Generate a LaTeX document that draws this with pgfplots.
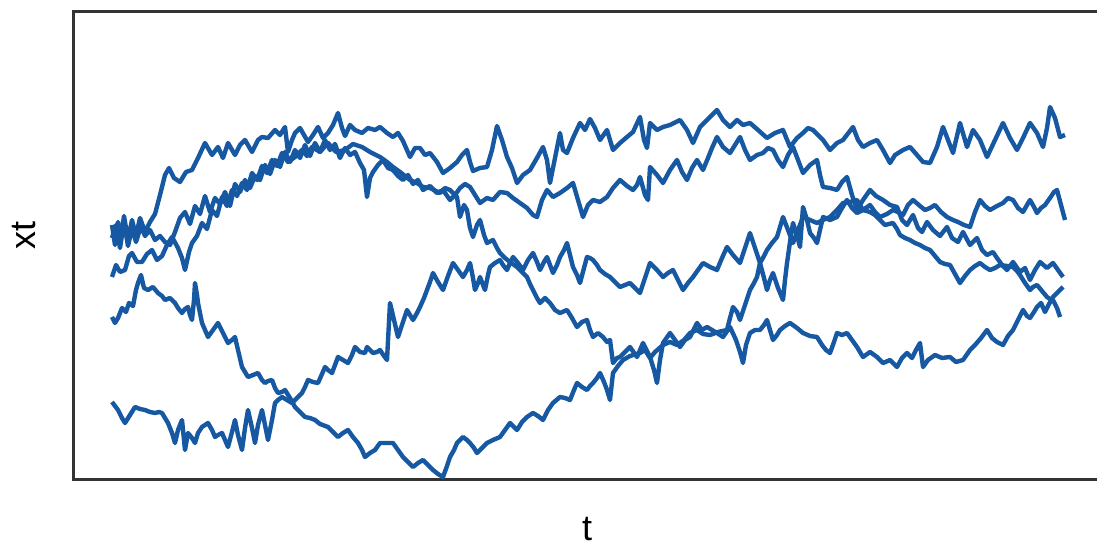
\documentclass[border=0pt]{standalone}
\usepackage{pgfplots}
\pgfplotsset{compat=1.18}
\usepackage{fontspec}
\setmainfont{Liberation Sans}
\definecolor{lineblue}{RGB}{22,88,162}
\tikzset{myline/.style={lineblue, line width=2.2pt, line join=round, mark=none}}
\begin{document}
\begin{tikzpicture}[x=1pt,y=1pt]
\useasboundingbox (0,0) rectangle (548.5pt,274.5pt);
\clip (0,0) rectangle (548.5pt,274.5pt);
\begin{axis}[
  at={(36.5pt,34.5pt)}, anchor=south west,
  scale only axis, width=518.5pt, height=234pt,
  xmin=73, xmax=1110, ymin=12, ymax=480, y dir=reverse,
  xtick=\empty, ytick=\empty,
  axis line style={line width=1.5pt, black!80},
]
\addplot[myline] coordinates {(112,225)(115,245)(118,222)(121,238)(124,216)(128,240)(132,220)(136,236)(140,218)(145,232)(150,222)(155,214)(160,195)(165,175)(169,168)(174,178)(180,182)(186,172)(192,170)(198,158)(205,143)(212,155)(218,147)(223,158)(228,143)(235,155)(240,145)(245,140)(252,152)(258,140)(262,137)(268,138)(275,130)(280,135)(285,127)(288,152)(292,140)(295,133)(300,128)(308,142)(313,135)(318,127)(323,138)(328,133)(333,125)(338,113)(342,128)(345,136)(350,125)(355,130)(362,133)(368,128)(375,130)(380,127)(387,133)(393,137)(398,133)(403,141)(410,157)(415,148)(420,148)(425,155)(430,153)(437,162)(443,173)(450,168)(457,162)(462,155)(467,150)(470,162)(473,171)(480,168)(487,167)(492,150)(497,126)(502,140)(507,157)(512,168)(517,183)(523,175)(530,170)(537,158)(543,147)(547,160)(550,183)(555,158)(560,133)(563,150)(567,153)(573,138)(580,123)(585,130)(590,119)(595,128)(600,140)(607,130)(613,150)(620,143)(627,137)(633,132)(640,117)(644,140)(647,148)(650,123)(657,130)(663,127)(670,125)(680,120)(687,130)(693,143)(700,127)(707,120)(712,115)(717,110)(723,120)(730,127)(737,120)(743,125)(750,123)(758,130)(767,138)(775,133)(783,130)(790,147)(797,138)(803,133)(808,128)(813,130)(823,140)(830,150)(837,143)(843,140)(853,127)(858,140)(863,147)(870,143)(877,140)(883,150)(890,163)(895,155)(903,150)(910,147)(917,155)(923,162)(930,163)(937,147)(943,127)(948,140)(953,153)(960,123)(967,147)(973,130)(980,140)(987,157)(995,140)(1003,123)(1010,138)(1017,150)(1023,138)(1030,123)(1037,133)(1043,147)(1047,128)(1050,107)(1055,118)(1060,137)(1065,135)};
\addplot[myline] coordinates {(112,238)(116,225)(120,248)(124,222)(128,246)(132,228)(136,242)(141,226)(145,236)(150,230)(155,240)(160,236)(165,242)(170,245)(175,232)(180,218)(185,212)(190,224)(195,206)(200,214)(205,196)(210,212)(215,198)(220,204)(225,192)(230,206)(235,184)(240,192)(245,180)(250,188)(255,176)(260,180)(265,165)(270,174)(275,160)(280,167)(285,152)(290,162)(295,150)(300,158)(305,145)(310,156)(315,143)(320,152)(325,140)(330,150)(335,144)(340,158)(345,148)(350,155)(355,152)(360,163)(364,170)(367,197)(370,178)(373,172)(378,165)(383,160)(388,168)(393,170)(398,176)(403,180)(408,175)(413,184)(418,180)(423,190)(430,186)(437,193)(443,190)(450,200)(455,195)(460,188)(465,184)(470,187)(475,195)(480,203)(487,198)(493,200)(500,192)(507,193)(513,198)(520,203)(527,208)(533,215)(537,217)(542,200)(547,190)(553,197)(560,193)(567,188)(573,183)(578,200)(583,217)(588,205)(593,200)(600,202)(607,197)(613,188)(620,180)(627,186)(633,190)(637,185)(640,177)(645,195)(648,200)(650,167)(657,175)(663,183)(670,170)(677,160)(682,172)(687,180)(692,168)(697,160)(703,170)(708,158)(712,148)(717,137)(723,147)(730,153)(735,145)(740,137)(745,150)(750,160)(757,155)(763,153)(768,148)(773,150)(778,160)(783,167)(788,155)(793,147)(798,160)(803,173)(810,165)(817,160)(820,175)(823,187)(830,188)(837,190)(842,182)(847,177)(852,195)(857,210)(863,200)(870,190)(876,196)(883,200)(890,205)(897,207)(902,220)(907,225)(913,215)(918,228)(922,232)(927,222)(933,230)(940,236)(947,227)(952,238)(958,242)(963,232)(970,245)(977,238)(982,250)(987,255)(993,252)(997,258)(1002,265)(1007,270)(1013,262)(1020,272)(1025,268)(1030,280)(1035,270)(1040,262)(1047,268)(1053,263)(1058,270)(1063,277)};
\addplot[myline] coordinates {(112,277)(116,265)(120,272)(125,270)(129,256)(132,253)(137,262)(142,262)(147,254)(152,250)(157,260)(162,256)(167,245)(172,237)(178,248)(182,258)(185,270)(189,252)(192,243)(197,236)(202,223)(207,229)(212,210)(217,216)(222,197)(227,206)(232,190)(237,196)(242,183)(247,190)(252,173)(257,180)(262,166)(267,173)(272,160)(277,166)(282,153)(288,162)(295,157)(302,150)(307,156)(312,147)(320,152)(328,143)(336,152)(345,150)(353,144)(362,147)(370,152)(380,157)(387,162)(393,167)(400,172)(410,180)(417,183)(423,187)(430,188)(440,193)(445,188)(450,190)(457,197)(460,217)(464,205)(467,210)(470,228)(473,237)(477,225)(480,220)(484,235)(487,243)(493,240)(497,248)(500,253)(505,258)(510,262)(517,267)(522,272)(527,277)(530,284)(533,290)(537,298)(540,303)(545,298)(550,303)(555,310)(560,313)(567,310)(572,318)(577,327)(582,322)(587,320)(590,330)(593,337)(598,333)(603,337)(607,342)(610,340)(613,363)(617,358)(620,357)(625,352)(630,347)(637,357)(643,343)(650,357)(654,370)(657,383)(660,360)(663,343)(670,333)(675,340)(680,347)(685,340)(690,337)(697,323)(702,330)(707,327)(712,330)(717,333)(723,337)(730,327)(736,340)(740,352)(743,363)(746,345)(750,333)(755,330)(760,330)(764,325)(767,320)(770,330)(773,340)(777,335)(780,330)(785,326)(790,323)(797,328)(803,333)(810,336)(817,337)(822,345)(826,350)(830,353)(834,342)(837,333)(842,335)(847,333)(852,340)(857,347)(863,357)(870,352)(877,357)(883,363)(890,360)(897,367)(902,358)(907,353)(912,358)(916,350)(920,343)(923,367)(928,360)(935,355)(942,358)(950,357)(956,362)(963,360)(970,350)(975,345)(981,338)(987,330)(992,338)(997,342)(1003,345)(1008,336)(1013,330)(1018,320)(1023,310)(1027,316)(1030,318)(1034,312)(1037,307)(1041,303)(1045,312)(1049,304)(1053,297)(1058,292)(1063,287)};
\addplot[myline] coordinates {(112,317)(115,323)(118,318)(122,308)(126,312)(129,303)(133,306)(136,290)(138,283)(141,275)(144,288)(148,290)(153,287)(158,293)(162,296)(165,300)(170,298)(175,303)(178,308)(182,313)(185,309)(188,307)(190,315)(192,320)(194,300)(195,283)(197,295)(198,303)(202,323)(205,330)(208,337)(213,330)(218,323)(223,333)(228,343)(232,340)(235,337)(238,350)(242,367)(245,372)(248,377)(253,375)(258,373)(262,380)(265,383)(268,381)(272,380)(275,388)(278,393)(282,392)(285,390)(290,398)(295,407)(300,412)(305,417)(310,418)(315,420)(320,424)(328,427)(333,432)(338,437)(343,433)(348,430)(353,437)(358,443)(362,450)(365,457)(370,453)(375,450)(380,443)(387,443)(393,443)(398,450)(403,457)(408,462)(413,467)(418,463)(423,460)(428,465)(433,470)(438,474)(443,477)(447,466)(450,457)(454,450)(457,443)(460,440)(463,437)(467,440)(470,443)(474,448)(477,453)(482,448)(487,443)(493,440)(500,437)(505,430)(510,423)(514,427)(517,430)(522,422)(527,417)(533,413)(538,416)(543,420)(548,410)(553,403)(560,397)(565,398)(570,400)(574,390)(577,383)(582,387)(587,390)(590,386)(593,383)(597,378)(600,373)(604,382)(607,390)(610,400)(613,373)(618,366)(623,360)(630,356)(640,353)(645,350)(650,358)(655,352)(663,345)(670,342)(677,345)(684,340)(690,333)(697,330)(703,334)(710,335)(718,332)(727,330)(730,318)(733,307)(737,312)(740,320)(745,305)(750,290)(754,283)(757,277)(760,263)(764,278)(767,290)(770,280)(773,273)(778,288)(783,300)(785,280)(787,263)(790,242)(793,223)(797,235)(800,247)(803,207)(807,220)(810,233)(814,238)(817,243)(820,230)(823,217)(830,220)(837,217)(842,208)(847,200)(852,208)(857,213)(863,210)(870,205)(875,212)(880,217)(887,214)(893,210)(898,212)(903,215)(908,205)(913,200)(920,206)(925,210)(930,208)(935,205)(941,212)(947,217)(953,220)(958,222)(964,225)(970,227)(975,212)(980,200)(985,206)(990,210)(997,206)(1003,203)(1008,198)(1013,200)(1018,208)(1023,212)(1027,205)(1030,200)(1034,207)(1037,213)(1041,208)(1045,205)(1050,198)(1054,192)(1057,190)(1061,205)(1065,220)};
\addplot[myline] coordinates {(112,402)(115,406)(118,410)(122,418)(125,423)(130,415)(135,407)(140,409)(145,410)(150,412)(155,413)(159,412)(162,413)(165,418)(168,423)(172,433)(175,443)(178,430)(182,420)(185,450)(188,433)(192,438)(195,443)(198,433)(202,427)(205,425)(208,423)(212,430)(215,437)(218,435)(222,433)(225,440)(228,447)(232,432)(235,420)(238,435)(242,450)(245,428)(248,410)(252,428)(255,443)(258,425)(262,410)(265,425)(268,440)(272,420)(275,403)(278,400)(282,397)(287,400)(292,403)(297,398)(302,393)(305,387)(308,380)(313,382)(318,383)(322,374)(325,367)(328,370)(332,373)(335,365)(338,357)(343,360)(348,363)(352,355)(355,347)(360,352)(365,353)(367,347)(370,350)(373,353)(377,352)(380,350)(384,356)(387,360)(390,303)(394,320)(398,337)(402,325)(407,310)(410,315)(413,320)(417,313)(420,307)(424,298)(427,290)(430,282)(433,273)(438,282)(443,290)(448,276)(453,263)(458,270)(463,277)(467,270)(470,263)(473,278)(475,290)(478,283)(480,277)(483,285)(485,290)(488,275)(490,267)(495,263)(500,260)(503,265)(507,270)(510,263)(513,257)(518,263)(523,270)(528,260)(533,253)(537,262)(540,270)(544,262)(547,257)(550,265)(553,273)(557,265)(560,257)(564,250)(567,243)(570,255)(573,267)(577,275)(580,283)(584,268)(587,257)(590,258)(593,260)(597,265)(600,270)(605,274)(610,277)(615,282)(620,287)(625,285)(630,283)(635,288)(640,293)(645,278)(650,263)(657,270)(663,277)(668,273)(673,270)(678,280)(683,290)(688,283)(693,277)(698,270)(703,263)(710,267)(717,270)(722,258)(727,247)(733,255)(740,263)(745,248)(750,233)(755,248)(760,263)(764,256)(767,250)(772,243)(777,237)(780,227)(783,217)(788,230)(793,243)(798,230)(803,217)(810,220)(817,223)(823,220)(830,217)(837,210)(843,203)(850,202)(857,200)(860,205)(863,210)(870,212)(875,215)(880,220)(885,225)(889,224)(893,223)(897,229)(900,235)(905,238)(910,240)(915,243)(920,245)(925,248)(930,250)(935,256)(940,262)(945,264)(950,265)(955,274)(960,283)(965,276)(970,270)(975,266)(980,263)(985,267)(990,270)(995,268)(1000,265)(1007,266)(1013,267)(1017,271)(1020,275)(1025,283)(1030,290)(1033,287)(1037,285)(1042,291)(1047,297)(1050,299)(1053,300)(1057,308)(1060,317)};
\end{axis}
\node[rotate=90, font=\fontsize{18}{20}\selectfont] at (12pt,156.5pt) {xt};
\node[font=\fontsize{18}{20}\selectfont] at (293.5pt,10pt) {t};
\end{tikzpicture}
\end{document}
